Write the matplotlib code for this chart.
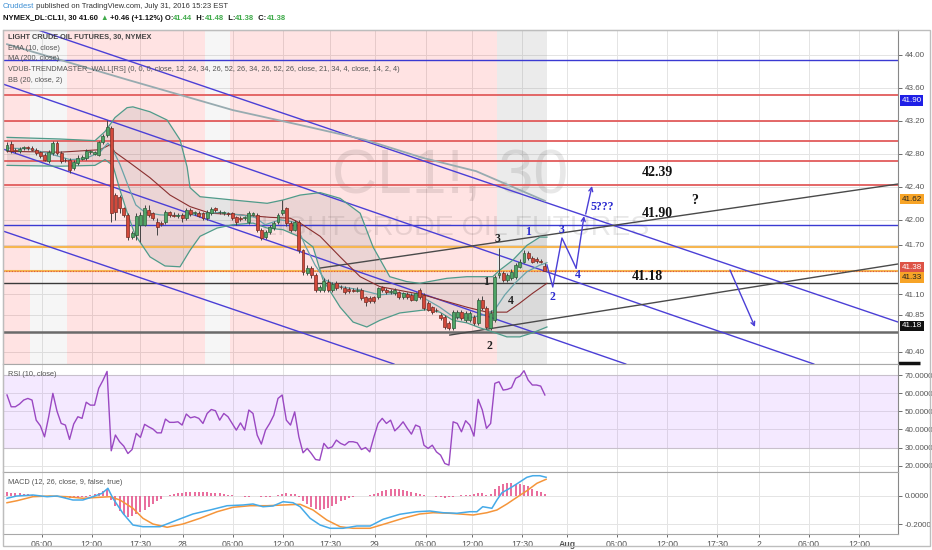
import matplotlib
matplotlib.use('Agg')
import matplotlib.pyplot as plt
import matplotlib.transforms as mtransforms
from matplotlib import font_manager
from matplotlib.patches import Rectangle
import numpy as np

W, H = 932, 550

installed = {f.name for f in font_manager.fontManager.ttflist}
SANS = [n for n in ['Liberation Sans Narrow', 'Liberation Sans'] if n in installed] + ['DejaVu Sans']
SERIF = [n for n in ['Liberation Serif', 'DejaVu Serif'] if n in installed] + ['DejaVu Sans']
plt.rcParams['font.family'] = SANS
NARROW = 'Liberation Sans Narrow' in installed
# text sizes for the small TradingView captions (narrow face is ~18% slimmer)
SMALL = 6.2 if NARROW else 5.3

# ---------------- 30 min candles (CL1!) ----------------
opens = [42.85, 42.92, 42.85, 42.83, 42.87, 42.88, 42.87, 42.85, 42.82, 42.79,
         42.71, 42.81, 42.93, 42.81, 42.73, 42.73, 42.63, 42.69, 42.74, 42.75,
         42.82, 42.80, 42.79, 42.94, 43.03, 43.11, 42.30, 42.28, 42.14, 42.06,
         41.79, 41.82, 41.94, 41.94, 42.12, 42.08, 41.97, 41.96, 41.97, 42.09,
         42.06, 42.05, 42.06, 42.02, 42.12, 42.08, 42.08, 42.08, 42.02, 42.08,
         42.14, 42.09, 42.08, 42.08, 42.08, 42.03, 42.02, 42.02, 41.97, 42.06,
         42.06, 41.88, 41.79, 41.85, 41.90, 41.97, 42.08, 42.14, 41.96, 41.88,
         41.97, 41.63, 41.36, 41.42, 41.33, 41.15, 41.15, 41.25, 41.15, 41.23,
         41.19, 41.17, 41.16, 41.15, 41.14, 41.15, 41.06, 41.05, 41.06, 41.06,
         41.18, 41.15, 41.12, 41.11, 41.12, 41.06, 41.10, 41.09, 41.03, 41.15,
         41.09, 40.99, 40.94, 40.91, 40.85, 40.82, 40.75, 40.69, 40.82, 40.88,
         40.78, 40.78, 40.82, 40.75, 41.03, 40.93, 40.69, 40.78, 41.33, 41.36,
         41.27, 41.29, 41.31, 41.43, 41.49, 41.60, 41.54, 41.53, 41.50, 41.44]
highs = [42.94, 42.95, 42.87, 42.88, 42.90, 42.90, 42.89, 42.87, 42.84, 42.81,
         42.85, 42.96, 42.96, 42.83, 42.75, 42.75, 42.73, 42.78, 42.79, 42.86,
         42.85, 42.84, 42.96, 43.04, 43.21, 43.14, 42.32, 42.30, 42.16, 42.08,
         41.87, 42.08, 42.10, 42.18, 42.18, 42.10, 42.02, 41.98, 42.12, 42.11,
         42.09, 42.08, 42.08, 42.14, 42.14, 42.11, 42.11, 42.10, 42.12, 42.16,
         42.16, 42.12, 42.11, 42.10, 42.10, 42.05, 42.04, 42.05, 42.11, 42.10,
         42.08, 41.90, 41.88, 41.94, 41.99, 42.08, 42.24, 42.16, 41.98, 42.00,
         42.00, 41.65, 41.45, 41.44, 41.35, 41.21, 41.29, 41.28, 41.25, 41.26,
         41.21, 41.20, 41.18, 41.17, 41.19, 41.17, 41.08, 41.07, 41.08, 41.19,
         41.20, 41.17, 41.16, 41.17, 41.14, 41.13, 41.12, 41.11, 41.13, 41.17,
         41.11, 41.01, 40.96, 40.93, 40.87, 40.84, 40.77, 40.90, 40.91, 40.90,
         40.89, 40.89, 40.84, 41.05, 41.07, 40.95, 40.90, 41.33, 41.66, 41.38,
         41.36, 41.40, 41.48, 41.52, 41.63, 41.62, 41.56, 41.55, 41.52, 41.48]
lows = [42.82, 42.81, 42.81, 42.81, 42.85, 42.85, 42.83, 42.79, 42.75, 42.71,
        42.69, 42.79, 42.79, 42.69, 42.70, 42.57, 42.60, 42.67, 42.72, 42.73,
        42.80, 42.78, 42.77, 42.92, 43.01, 41.97, 42.00, 42.08, 42.03, 41.75,
        41.77, 41.76, 41.73, 41.92, 42.03, 42.00, 41.82, 41.93, 41.95, 42.03,
        42.03, 42.02, 41.97, 42.00, 42.05, 42.06, 42.03, 42.00, 42.00, 42.06,
        42.10, 42.07, 42.06, 42.05, 42.00, 41.94, 41.99, 42.00, 41.95, 42.04,
        41.85, 41.75, 41.77, 41.83, 41.88, 41.95, 42.06, 41.93, 41.85, 41.86,
        41.60, 41.33, 41.33, 41.30, 41.12, 41.13, 41.12, 41.13, 41.13, 41.15,
        41.16, 41.10, 41.11, 41.12, 41.12, 41.03, 40.96, 40.99, 40.99, 41.04,
        41.13, 41.10, 41.10, 41.09, 41.04, 41.04, 41.04, 41.01, 41.01, 41.04,
        40.91, 40.89, 40.86, 40.88, 40.79, 40.67, 40.66, 40.66, 40.80, 40.79,
        40.76, 40.76, 40.72, 40.72, 40.90, 40.67, 40.66, 40.76, 41.30, 41.24,
        41.24, 41.27, 41.28, 41.41, 41.47, 41.51, 41.47, 41.48, 41.47, 41.38]
closes = [42.91, 42.83, 42.83, 42.86, 42.88, 42.87, 42.85, 42.81, 42.77, 42.73,
          42.82, 42.93, 42.81, 42.71, 42.72, 42.60, 42.70, 42.75, 42.76, 42.83,
          42.83, 42.82, 42.94, 43.02, 43.13, 42.08, 42.09, 42.14, 42.06, 41.79,
          41.84, 42.05, 42.06, 42.14, 42.06, 42.02, 41.91, 41.95, 42.09, 42.06,
          42.05, 42.06, 42.02, 42.12, 42.07, 42.09, 42.05, 42.02, 42.09, 42.13,
          42.12, 42.10, 42.09, 42.07, 42.02, 41.97, 42.01, 42.03, 42.08, 42.08,
          41.88, 41.78, 41.85, 41.91, 41.96, 42.06, 42.12, 41.96, 41.88, 41.97,
          41.63, 41.37, 41.42, 41.33, 41.15, 41.18, 41.26, 41.15, 41.22, 41.17,
          41.18, 41.12, 41.14, 41.14, 41.15, 41.05, 41.00, 41.01, 41.01, 41.17,
          41.15, 41.12, 41.14, 41.15, 41.06, 41.11, 41.06, 41.03, 41.11, 41.06,
          40.93, 40.91, 40.88, 40.90, 40.81, 40.70, 40.69, 40.88, 40.88, 40.81,
          40.87, 40.87, 40.75, 41.03, 40.93, 40.70, 40.87, 41.31, 41.36, 41.27,
          41.33, 41.37, 41.45, 41.49, 41.60, 41.54, 41.49, 41.50, 41.49, 41.38]

# ---------------- overlays (bar position, price) ----------------
ema_x = [0, 5.5, 10.3, 15.1, 18.7, 22.3, 24.2, 25.4, 27.1, 29.0, 30.9, 33.1, 36.7, 41.5, 46.3,
         51.1, 55.9, 59.5, 61.9, 65.5, 69.1, 71.5, 73.9, 76.3, 79.9, 84.7, 89.4, 94.2, 99.0,
         103.8, 107.4, 111.0, 114.6, 117.0, 119.4, 121.8, 124.7, 127.8, 129.5]
ema_y = [42.87, 42.86, 42.80, 42.73, 42.74, 42.82, 42.93, 42.85, 42.67, 42.42, 42.18, 42.09,
         42.06, 42.05, 42.07, 42.09, 42.06, 42.03, 41.94, 42.00, 41.97, 41.69, 41.45, 41.27,
         41.19, 41.15, 41.09, 41.11, 41.08, 40.94, 40.81, 40.81, 40.85, 40.91, 41.09, 41.23,
         41.37, 41.45, 41.48]
basis_x = [0, 12.7, 22.3, 24.7, 25.9, 29.5, 34.3, 39.1, 43.9, 48.7, 55.9, 63.1, 67.9, 70.3,
           75.1, 79.9, 84.7, 89.4, 99.8, 110.3, 115.1, 119.9, 123.0, 126.1, 129.5]
basis_y = [42.83, 42.82, 42.85, 42.91, 42.82, 42.69, 42.51, 42.30, 42.16, 42.08, 42.06, 42.03,
           42.02, 41.96, 41.80, 41.55, 41.31, 41.19, 41.09, 40.94, 40.88, 40.88, 40.99, 41.11,
           41.23]
bb_up_x = [0, 12.7, 21.1, 23.5, 25.9, 28.8, 30.2, 34.3, 38.4, 41.5, 43.2, 43.9, 46.3, 54.2,
           62.4, 66.2, 70.3, 75.1, 79.9, 84.7, 87.8, 91.8, 95.9, 99.0, 105.5, 110.3, 116.5,
           118.2, 121.3, 124.7, 127.8, 129.5]
bb_up_y = [43.00, 42.98, 42.96, 43.07, 43.24, 43.36, 43.37, 43.31, 43.21, 42.97, 42.64, 42.39,
           42.28, 42.24, 42.20, 42.24, 42.30, 42.33, 42.26, 42.08, 41.67, 41.31, 41.25, 41.23,
           41.29, 41.31, 41.31, 41.39, 41.51, 41.69, 41.79, 41.79]
bb_lo_x = [0, 12.7, 21.1, 23.5, 25.4, 27.1, 29.0, 30.7, 34.3, 37.9, 41.5, 43.9, 46.3, 50.4,
           54.2, 59.0, 62.4, 66.2, 70.3, 73.4, 75.8, 79.9, 83.0, 86.3, 89.4, 94.2, 100.7,
           103.8, 107.0, 110.3, 113.4, 116.5, 119.9, 123.0, 126.1, 129.5]
bb_lo_y = [42.66, 42.65, 42.66, 42.73, 42.66, 42.36, 42.06, 41.82, 41.55, 41.44, 41.43, 41.63,
           41.80, 41.90, 41.94, 41.96, 41.90, 41.88, 41.79, 41.67, 41.27, 40.94, 40.76, 40.70,
           40.78, 40.87, 40.91, 40.88, 40.78, 40.75, 40.69, 40.64, 40.58, 40.58, 40.63, 40.70]
ma_x = [0, 28.8, 54.2, 70.3, 85.9, 99.8, 112.5, 129.0]
ma_y = [44.13, 43.70, 43.33, 43.15, 42.97, 42.75, 42.59, 42.23]

# ---------------- RSI (10) per bar ----------------
rsi = [59.0, 52.5, 52.5, 54.0, 56.2, 57.1, 56.2, 45.1, 42.0, 35.9,
       47.0, 59.9, 50.0, 43.3, 42.4, 34.5, 43.0, 47.0, 46.1, 55.0,
       53.4, 53.4, 62.7, 67.0, 72.0, 28.2, 36.9, 33.2, 30.8, 26.7,
       28.9, 37.8, 35.6, 42.8, 41.4, 40.2, 38.1, 38.1, 45.7, 43.9,
       43.9, 44.2, 42.4, 48.5, 46.4, 47.0, 46.1, 43.3, 48.8, 51.0,
       50.3, 45.1, 48.8, 47.0, 43.3, 39.6, 43.6, 39.6, 50.7, 48.8,
       36.9, 31.9, 39.6, 43.3, 47.9, 57.1, 59.0, 45.1, 42.4, 49.7,
       35.9, 27.1, 29.5, 26.7, 23.4, 23.0, 32.3, 29.5, 30.4, 34.1,
       32.3, 31.3, 33.2, 33.2, 32.6, 28.9, 30.0, 27.6, 35.9, 43.3,
       46.1, 43.3, 45.1, 39.2, 41.4, 44.2, 40.6, 37.4, 42.4, 41.4,
       31.3, 29.5, 31.3, 27.6, 25.8, 21.2, 20.3, 44.2, 43.3, 38.7,
       44.8, 42.4, 36.3, 56.6, 50.7, 40.6, 43.3, 65.4, 66.3, 61.7,
       62.1, 63.0, 68.2, 69.4, 72.4, 67.2, 64.5, 64.5, 63.9, 59.0]

# ---------------- MACD (12, 26, 9) ----------------
macd_x = [0, 2.3, 6.2, 9.6, 12.0, 15.8, 18.2, 20.6, 22.8, 24.2, 25.4, 27.8, 30.2, 32.6, 36.7,
          40.8, 44.6, 48.7, 52.8, 56.6, 59.0, 61.4, 63.8, 66.2, 68.6, 70.3, 72.7, 75.1, 77.5,
          80.6, 83.9, 87.1, 90.2, 94.2, 98.3, 101.4, 104.6, 107.9, 111.0, 112.7, 114.1, 116.3,
          117.5, 118.7, 120.6, 122.5, 124.7, 126.1, 127.8, 129.3]
macd_v = [-0.018, -0.002, 0.005, -0.007, -0.002, -0.030, -0.030, -0.007, 0.017, 0.052,
          -0.018, -0.123, -0.205, -0.217, -0.217, -0.170, -0.128, -0.100, -0.070, -0.065,
          -0.058, -0.077, -0.072, -0.042, -0.049, -0.077, -0.158, -0.205, -0.228, -0.228,
          -0.212, -0.212, -0.165, -0.130, -0.112, -0.107, -0.119, -0.123, -0.112, -0.112,
          -0.077, -0.088, -0.030, 0.021, 0.052, 0.087, 0.129, 0.140, 0.140, 0.129]
sig_x = [0, 2.4, 6.2, 10.3, 14.4, 18.2, 22.3, 24.7, 27.1, 30.2, 32.6, 35.0, 38.4, 42.2, 46.3,
         50.4, 54.2, 58.3, 62.4, 66.2, 70.3, 73.4, 76.7, 79.9, 83.0, 87.1, 91.1, 95.0, 99.0,
         102.2, 106.2, 108.6, 111.8, 115.1, 117.5, 119.9, 122.3, 124.7, 127.1, 129.3]
sig_v = [-0.049, -0.035, -0.007, -0.002, -0.007, -0.018, -0.011, -0.007, -0.030, -0.088,
         -0.158, -0.198, -0.221, -0.198, -0.158, -0.112, -0.081, -0.070, -0.070, -0.065,
         -0.060, -0.100, -0.170, -0.217, -0.228, -0.228, -0.193, -0.158, -0.128, -0.119,
         -0.123, -0.128, -0.135, -0.119, -0.100, -0.058, -0.011, 0.035, 0.087, 0.115]
hist = [0.024, 0.022, 0.020, 0.018, 0.014, 0.010, 0.006, 0.003, 0.000, -0.004,
        -0.006, -0.008, -0.010, -0.012, -0.014, -0.016, -0.016, -0.014, -0.012, -0.008,
        0.004, 0.012, 0.022, 0.035, 0.050, -0.030, -0.075, -0.110, -0.135, -0.150,
        -0.145, -0.130, -0.115, -0.100, -0.080, -0.060, -0.040, -0.020, -0.005, 0.005,
        0.012, 0.018, 0.022, 0.025, 0.028, 0.028, 0.028, 0.027, 0.025, 0.022,
        0.019, 0.016, 0.012, 0.008, 0.004, 0.000, -0.004, -0.006, -0.006, -0.004,
        -0.002, -0.006, -0.008, -0.006, -0.002, 0.006, 0.012, 0.016, 0.014, 0.010,
        -0.010, -0.035, -0.060, -0.080, -0.095, -0.100, -0.095, -0.085, -0.070, -0.055,
        -0.040, -0.028, -0.018, -0.010, -0.005, -0.003, 0.000, 0.004, 0.010, 0.020,
        0.032, 0.042, 0.047, 0.047, 0.045, 0.040, 0.033, 0.025, 0.017, 0.010,
        0.004, 0.000, -0.004, -0.008, -0.012, -0.014, -0.012, -0.006, 0.000, 0.004,
        0.007, 0.008, 0.010, 0.020, 0.016, 0.008, 0.015, 0.045, 0.070, 0.080,
        0.087, 0.087, 0.085, 0.080, 0.075, 0.065, 0.050, 0.035, 0.025, 0.012]

# ---------------- user drawings ----------------
hline_levels = [43.942, 43.517, 43.202, 42.952, 42.717, 42.426, 41.933, 41.666, 41.382, 41.230, 40.642]
hline_kind = ['blue', 'red', 'red', 'red', 'red', 'red', 'blue', 'orange', 'orange', 'black', 'grey']
chan_p1 = [(7.43, 44.302), (-1.68, 43.659), (-1.68, 42.871), (-1.68, 41.876)]
chan_p2 = [(213.7, 40.760), (193.5, 40.251), (148.4, 40.251), (92.8, 40.251)]
trend_p1 = [(75.1, 41.415), (106.2, 40.602)]
trend_p2 = [(213.7, 42.434), (213.7, 41.464)]
wave_x = [129.5, 130.9, 133.1, 136.5]
wave_y = [41.452, 41.185, 41.779, 41.415]
arrow_from = [(136.5, 41.415), (138.8, 42.070), (173.4, 41.391)]
arrow_to = [(138.4, 42.046), (140.3, 42.410), (179.4, 40.700)]
note_text = ['3', '1', '4', '2', '1', '2', '3', '4', '5???', '42.39', '41.90', '41.18', '?']
note_x = [117.7, 114.9, 120.9, 115.8, 124.9, 130.9, 133.1, 136.9, 142.7, 155.9, 155.9, 153.7, 165.0]
note_y = [41.767, 41.245, 41.015, 40.469, 41.852, 41.063, 41.876, 41.330, 42.155, 42.568, 42.082, 41.318, 42.228]
note_kind = ['wave', 'wave', 'wave', 'wave', 'proj', 'proj', 'proj', 'proj', 'proj', 'level', 'level', 'level', 'level']

# trend wall background (bar ranges)
wall_start = [-1.0, 5.5, 14.5, 47.5, 53.5, 117.5]
wall_end = [5.5, 14.5, 47.5, 53.5, 117.5, 129.5]
wall_state = ['bear', 'flat', 'bear', 'flat', 'bear', 'neutral']

# axes
price_ticks = [44.00, 43.60, 43.20, 42.80, 42.40, 42.00, 41.70, 41.10, 40.85, 40.40]
rsi_ticks = [70, 60, 50, 40, 30, 20]
macd_ticks = [0.0, -0.2]
time_pos = [8.3, 20.3, 31.9, 42.2, 54.2, 66.2, 77.5, 88.2, 100.5, 111.5, 123.5, 134.3,
            146.3, 158.3, 170.3, 180.3, 192.3, 204.3]
time_lab = ['06:00', '12:00', '17:30', '28', '06:00', '12:00', '17:30', '29', '06:00', '12:00',
            '17:30', 'Aug', '06:00', '12:00', '17:30', '2', '06:00', '12:00']
tag_text = ['41.90', '41.62', '41.38', '41.33', '41.18']
tag_level = [43.445, 42.252, 41.419, 41.302, 40.712]
tag_kind = ['blue', 'orange', 'red', 'orange', 'black']

# ---------------- styles ----------------
BLUE = '#4b3fd6'
HSTYLE = {'blue': ('#3a3ad2', 1.0), 'red': ('#e25c5c', 1.3), 'orange': ('#f6b650', 1.5),
          'black': ('#3a3a3a', 1.0), 'grey': ('#6a6a6a', 1.8)}
WALL = {'bear': ('#ff0000', 0.11), 'flat': ('#8a8a8a', 0.07), 'neutral': ('#7a7a7a', 0.15)}
TAG = {'blue': ('#1f1fe6', 'white'), 'orange': ('#f7a427', '#222222'),
       'red': ('#dd5346', 'white'), 'black': ('#111111', 'white')}
GRID = '#e4e4e4'
SPINE = '#a8a8a8'

fig = plt.figure(figsize=(W / 100, H / 100), dpi=100)
fig.patch.set_facecolor('white')


def fx(px):
    return px / W


def fy(py):
    return 1 - py / H


L, R = 3, 898
ax = fig.add_axes([fx(L), fy(364), (R - L) / W, (364 - 30) / H])
ax_rsi = fig.add_axes([fx(L), fy(472), (R - L) / W, (472 - 364) / H], sharex=ax)
ax_macd = fig.add_axes([fx(L), fy(534), (R - L) / W, (534 - 472) / H], sharex=ax)

for a in (ax, ax_rsi, ax_macd):
    a.set_axisbelow(True)
    for s in a.spines.values():
        s.set_color(SPINE)
        s.set_linewidth(0.8)
    a.spines['right'].set_color('#888888')
    a.yaxis.tick_right()
    a.tick_params(axis='y', labelsize=5.8, colors='#555555', length=3, width=0.6, pad=2)
    a.tick_params(axis='x', length=0, labelbottom=False)
    a.grid(True, color=GRID, lw=0.7)

ax.set_xlim(-0.96, 213.7)
ax_macd.set_xticks(time_pos, time_lab)

# ---------------- main panel ----------------
ax.set_ylim(40.251, 44.302)
ax.set_yticks(price_ticks, ['%.2f' % t for t in price_ticks])

for s, e, st in zip(wall_start, wall_end, wall_state):
    col, al = WALL[st]
    ax.axvspan(s, e, color=col, alpha=al, lw=0, zorder=0.7)

ax.text(fx(450), fy(176), 'CL1!, 30', transform=fig.transFigure, ha='center', va='center',
        fontsize=55 if NARROW else 45, color='black', alpha=0.09, zorder=0.8)
ax.text(fx(455), fy(228), 'LIGHT CRUDE OIL FUTURES', transform=fig.transFigure, ha='center',
        va='center', fontsize=20.5, color='black', alpha=0.09, zorder=0.8)

poly_x = np.r_[bb_up_x, bb_lo_x[::-1]]
poly_y = np.r_[bb_up_y, bb_lo_y[::-1]]
ax.fill(poly_x, poly_y, color='#8c8c8c', alpha=0.17, lw=0, zorder=0.9)

for lvl, kind in zip(hline_levels, hline_kind):
    col, lw = HSTYLE[kind]
    ax.axhline(lvl, color=col, lw=lw, zorder=2)

for p1, p2 in zip(chan_p1, chan_p2):
    ax.axline(p1, p2, color=BLUE, lw=1.0, zorder=2.2)
for p1, p2 in zip(trend_p1, trend_p2):
    ax.plot([p1[0], p2[0]], [p1[1], p2[1]], color='#4a4a4a', lw=1.0, zorder=2.2)

ax.plot(ma_x, ma_y, color='#97abb0', lw=1.3, zorder=2.5)
ax.plot(bb_up_x, bb_up_y, color='#4f9b8a', lw=0.9, zorder=3)
ax.plot(bb_lo_x, bb_lo_y, color='#4f9b8a', lw=0.9, zorder=3)
ax.plot(basis_x, basis_y, color='#8a2f2f', lw=0.8, zorder=3)
ax.plot(ema_x, ema_y, color='#6aa3a8', lw=0.9, zorder=3)

o = np.array(opens)
h = np.array(highs)
lo = np.array(lows)
c = np.array(closes)
x = np.arange(len(o))
up = c >= o
ax.vlines(x, lo, h, color='#444444', lw=0.7, zorder=4)
ax.bar(x[up], (c - o)[up], bottom=o[up], width=0.7, color='#4fa466', edgecolor='#2e5e3b',
       lw=0.5, zorder=5)
ax.bar(x[~up], (o - c)[~up], bottom=c[~up], width=0.7, color='#d2493b', edgecolor='#7a2a22',
       lw=0.5, zorder=5)
ax.axhline(closes[-1], color='#dd5346', lw=0.8, ls=(0, (1, 1.5)), zorder=2.1)

ax.plot(wave_x, wave_y, color=BLUE, lw=1.0, zorder=6)
for a0, a1 in zip(arrow_from, arrow_to):
    ax.annotate('', xy=a1, xytext=a0,
                arrowprops=dict(arrowstyle='->', color=BLUE, lw=1.0, mutation_scale=7,
                                shrinkA=0, shrinkB=0), zorder=6)

for t, nx, ny, k in zip(note_text, note_x, note_y, note_kind):
    if k == 'level':
        ax.text(nx, ny, t, ha='center', va='center', fontsize=10, fontweight='bold',
                color='#111111', family=SERIF, zorder=7)
    elif k == 'proj':
        ax.text(nx, ny, t, ha='center', va='center', fontsize=8.5, fontweight='bold',
                color='#2b2bd0', family=SERIF, zorder=7)
    else:
        ax.text(nx, ny, t, ha='center', va='center', fontsize=8.5, fontweight='bold',
                color='#222222', family=SERIF, zorder=7)

blend = mtransforms.blended_transform_factory(ax.transAxes, ax.transData)
for t, lvl, k in zip(tag_text, tag_level, tag_kind):
    bg, fg = TAG[k]
    ax.text(1.004, lvl, t, transform=blend, ha='left', va='center', fontsize=5.8, color=fg,
            bbox=dict(boxstyle='square,pad=0.22', fc=bg, ec='none'), clip_on=False, zorder=8)
ax.plot([1.0, 1.025], [40.262, 40.262], transform=blend, color='#111111', lw=2.5,
        clip_on=False, solid_capstyle='butt')

legend_lines = ['EMA (10, close)', 'MA (200, close)',
                'VDUB-TRENDMASTER_WALL[RS] (0, 0, 0, close, 12, 24, 34, 26, 52, 26, 34, 26, 52, 26, '
                'close, 21, 34, 4, close, 14, 2, 4)',
                'BB (20, close, 2)']
fig.text(fx(8), fy(37), 'LIGHT CRUDE OIL FUTURES, 30, NYMEX', fontsize=SMALL, fontweight='bold',
         color='#444444', va='center')
for k, s in enumerate(legend_lines):
    fig.text(fx(8), fy(48 + 10.8 * k), s, fontsize=SMALL, color='#555555', va='center')

# ---------------- RSI panel ----------------
ax_rsi.set_ylim(16.5, 76.1)
ax_rsi.set_yticks(rsi_ticks, ['%.4f' % t for t in rsi_ticks])
ax_rsi.axhspan(30, 70, color='#9b30ff', alpha=0.1, lw=0, zorder=0.7)
ax_rsi.axhline(70, color='#c8c0cc', lw=0.8, zorder=1)
ax_rsi.axhline(30, color='#c8c0cc', lw=0.8, zorder=1)
ax_rsi.plot(x, rsi, color='#9a48c2', lw=1.0, zorder=3)
fig.text(fx(8), fy(375), 'RSI (10, close)', fontsize=SMALL, color='#555555', va='center')

# ---------------- MACD panel ----------------
ax_macd.set_ylim(-0.268, 0.166)
ax_macd.set_yticks(macd_ticks, ['%.4f' % t for t in macd_ticks])
ax_macd.vlines(x, 0, hist, color='#e5538b', lw=1.2, zorder=2)
ax_macd.plot(sig_x, sig_v, color='#f5953a', lw=1.1, zorder=3)
ax_macd.plot(macd_x, macd_v, color='#45aae8', lw=1.1, zorder=3)
ax_macd.tick_params(axis='x', labelbottom=True, labelsize=6.3, colors='#555555', length=2,
                    width=0.6, pad=2)
for lab in ax_macd.get_xticklabels():
    if lab.get_text() == 'Aug':
        lab.set_fontweight('bold')
fig.text(fx(8), fy(483), 'MACD (12, 26, close, 9, false, true)', fontsize=SMALL, color='#555555',
         va='center')

# outer frame
fig.add_artist(Rectangle((fx(3), fy(546)), (930 - 3) / W, (546 - 30) / H, transform=fig.transFigure,
                         fill=False, ec='#bdbdbd', lw=1.0))

# ---------------- header ----------------
renderer = fig.canvas.get_renderer()


def runs(xpx, ypx, parts, size):
    xp = xpx
    for s, col, wt in parts:
        t = fig.text(fx(xp), fy(ypx), s, fontsize=size, color=col, fontweight=wt,
                     va='center', ha='left')
        xp += t.get_window_extent(renderer).width


GREEN = '#3faa4a'
HEAD = 6.6 if NARROW else 5.5
runs(3, 7, [('Cruddest', '#3b8ed4', 'normal'),
            (' published on TradingView.com, July 31, 2016 15:23 EST', '#333333', 'normal')], HEAD)
runs(3, 18, [('NYMEX_DL:CL1!, 30 41.60 ', '#111111', 'bold'), ('\u25b2', GREEN, 'bold'),
             (' +0.46 (+1.12%) O:', '#111111', 'bold'), ('41.44', GREEN, 'bold'),
             ('  H:', '#111111', 'bold'), ('41.48', GREEN, 'bold'),
             ('  L:', '#111111', 'bold'), ('41.38', GREEN, 'bold'),
             ('  C:', '#111111', 'bold'), ('41.38', GREEN, 'bold')], HEAD)

fig.savefig('out.png', dpi=100)
